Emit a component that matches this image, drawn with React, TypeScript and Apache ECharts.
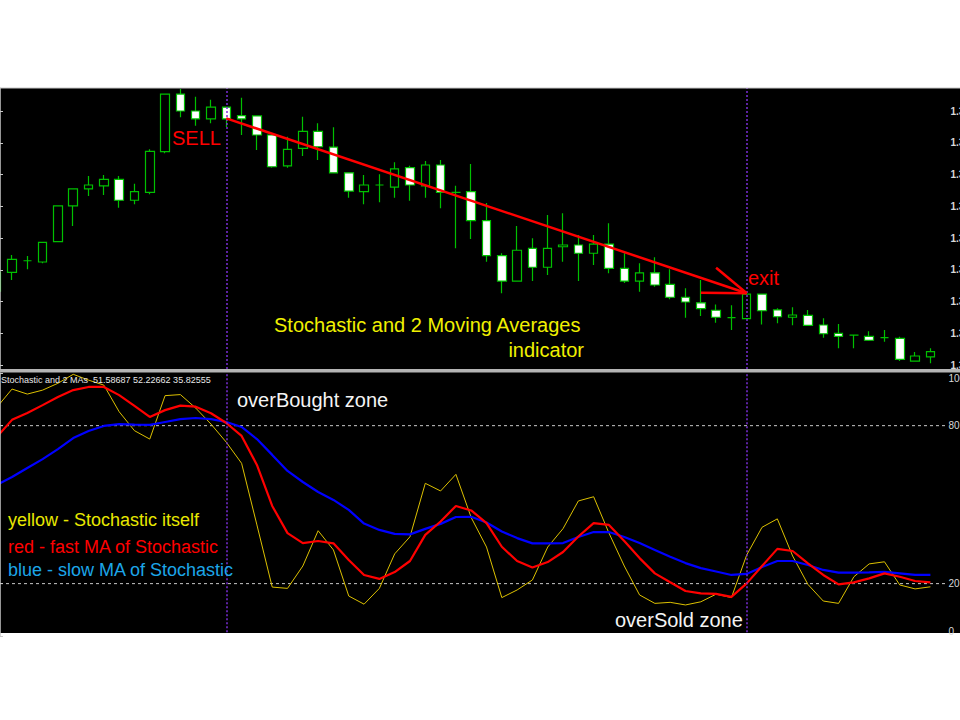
import React, { useEffect, useRef } from "react";
import * as echarts from "echarts";

// ---------- DATA ----------
const barNames: string[] = [
  "b01","b02","b03","b04","b05","b06","b07","b08","b09","b10",
  "b11","b12","b13","b14","b15","b16","b17","b18","b19","b20",
  "b21","b22","b23","b24","b25","b26","b27","b28","b29","b30",
  "b31","b32","b33","b34","b35","b36","b37","b38","b39","b40",
  "b41","b42","b43","b44","b45","b46","b47","b48","b49","b50",
  "b51","b52","b53","b54","b55","b56","b57","b58","b59","b60",
  "b61","b62",
];

const opens: number[] = [
  1.30466, 1.30584, 1.30657, 1.30649, 1.30777, 1.31002, 1.31109, 1.31128, 1.3117, 1.31038,
  1.31088, 1.31344, 1.31707, 1.316, 1.3155, 1.31624, 1.31571, 1.31569, 1.31449, 1.31254,
  1.31365, 1.31472, 1.31373, 1.31211, 1.31092, 1.31134, 1.31121, 1.31243, 1.31128, 1.3126,
  1.31088, 1.31092, 1.30909, 1.30689, 1.30529, 1.30735, 1.30616, 1.30745, 1.30756, 1.30704,
  1.30762, 1.30609, 1.30529, 1.30581, 1.30508, 1.30427, 1.30392, 1.30345, 1.30298, 1.30292,
  1.30447, 1.30347, 1.30301, 1.30313, 1.30252, 1.302, 1.30189, 1.30181, 1.30172, 1.30168,
  1.30025, 1.30052,
];
const closes: number[] = [
  1.30586, 1.30666, 1.30657, 1.30773, 1.31002, 1.31109, 1.31134, 1.3117, 1.31038, 1.31092,
  1.31346, 1.31707, 1.316, 1.3155, 1.31624, 1.3155, 1.3155, 1.31449, 1.31249, 1.31359,
  1.31472, 1.31375, 1.31211, 1.31096, 1.31134, 1.31134, 1.31235, 1.31134, 1.3126, 1.31088,
  1.31088, 1.30909, 1.30689, 1.30529, 1.30723, 1.30616, 1.30735, 1.30756, 1.30704, 1.30762,
  1.30609, 1.30529, 1.30581, 1.30504, 1.30427, 1.30397, 1.30355, 1.30301, 1.30298, 1.30447,
  1.30342, 1.30304, 1.30315, 1.3025, 1.30197, 1.30181, 1.30189, 1.30156, 1.30172, 1.30036,
  1.30057, 1.30084,
];
const lows: number[] = [
  1.30435, 1.30536, 1.30603, 1.30641, 1.30777, 1.30876, 1.31065, 1.31071, 1.30991, 1.31012,
  1.31075, 1.31334, 1.31561, 1.31508, 1.31523, 1.31499, 1.31449, 1.31355, 1.31243, 1.31243,
  1.31317, 1.31292, 1.31211, 1.31054, 1.31012, 1.31025, 1.31054, 1.31035, 1.31054, 1.30987,
  1.30735, 1.30794, 1.30651, 1.30452, 1.30525, 1.30529, 1.30567, 1.30651, 1.30529, 1.3063,
  1.30578, 1.30517, 1.30462, 1.30493, 1.30414, 1.30298, 1.30309, 1.30266, 1.30221, 1.30292,
  1.30256, 1.30263, 1.3025, 1.30246, 1.30172, 1.30105, 1.30105, 1.30151, 1.30147, 1.30025,
  1.30025, 1.30011,
];
const highs: number[] = [
  1.30611, 1.30693, 1.30687, 1.30773, 1.31002, 1.31109, 1.31191, 1.31197, 1.31191, 1.31142,
  1.31359, 1.31707, 1.31739, 1.3169, 1.31671, 1.31624, 1.31684, 1.31569, 1.31449, 1.31438,
  1.31564, 1.31523, 1.31498, 1.31211, 1.31197, 1.31201, 1.31277, 1.31256, 1.31285, 1.31292,
  1.3113, 1.31266, 1.31021, 1.30704, 1.30876, 1.30798, 1.30945, 1.30956, 1.30819, 1.30819,
  1.30893, 1.30704, 1.30641, 1.30679, 1.30603, 1.30483, 1.30536, 1.30382, 1.30376, 1.30447,
  1.30447, 1.30357, 1.30364, 1.30347, 1.30294, 1.30258, 1.30189, 1.30212, 1.30221, 1.30178,
  1.30082, 1.30105,
];

// Stochastic main line (yellow)
const stochMain: number[] = [
  86.9, 93.9, 92.0, 93.5, 96.1, 99.5, 97.3, 95.4, 85.3, 78.1,
  74.9, 91.4, 91.8, 86.7, 80.6, 73.7, 65.7, 42.3, 18.7, 18.2,
  26.7, 40.1, 32.8, 15.3, 12.2, 18.2, 31.3, 37.8, 58.1, 55.2,
  61.5, 45.1, 33.9, 14.7, 17.6, 21.4, 33.9, 40.9, 51.4, 53.0,
  39.2, 26.7, 15.7, 12.5, 12.9, 11.9, 13.1, 16.0, 14.7, 30.9,
  41.4, 44.6, 30.5, 19.7, 13.4, 12.5, 22.6, 27.5, 28.3, 19.5,
  18.0, 18.8,
];
// Fast MA of Stochastic (red)
const stochFast: number[] = [
  75.7, 82.2, 84.8, 87.8, 90.9, 93.5, 94.7, 94.7, 91.6, 87.5,
  83.3, 85.9, 87.6, 87.2, 84.7, 81.0, 76.1, 65.1, 49.5, 39.2,
  35.4, 36.2, 35.3, 29.0, 23.3, 21.8, 24.4, 28.6, 38.5, 43.6,
  49.5, 47.8, 43.0, 34.0, 28.6, 26.1, 28.2, 32.0, 37.9, 43.0,
  42.3, 36.2, 29.7, 23.9, 20.5, 17.2, 16.3, 16.1, 15.0, 20.1,
  26.7, 33.2, 32.4, 27.7, 23.3, 19.7, 20.5, 22.0, 23.9, 22.6,
  21.0, 20.5,
];
// Slow MA of Stochastic (blue)
const stochSlow: number[] = [
  57.5, 60.5, 63.9, 67.3, 71.1, 75.3, 78.0, 79.9, 80.6, 80.4,
  80.3, 81.4, 82.5, 82.9, 82.5, 81.4, 79.5, 74.9, 68.9, 62.8,
  58.6, 54.8, 51.8, 48.0, 42.8, 40.4, 38.9, 38.7, 40.8, 42.7,
  45.3, 45.4, 43.2, 39.8, 37.3, 35.3, 35.3, 35.4, 37.7, 39.6,
  39.6, 37.7, 35.4, 32.8, 30.2, 27.8, 25.9, 24.6, 23.3, 23.7,
  26.3, 28.6, 28.6, 27.1, 25.2, 24.2, 24.2, 24.3, 24.5, 23.9,
  23.3, 23.3,
];

const priceTicks: number[] = [1.3, 1.302, 1.304, 1.306, 1.308, 1.31, 1.312, 1.314, 1.316];
const priceMin = 1.29975;
const priceMax = 1.31745;
const stochTicks: number[] = [0, 20, 80, 100];
const stochLevels: number[] = [80, 20];
const signalBars: number[] = [15, 49]; // SELL bar, exit bar
const trendStart: [number, number] = [15, 1.31554];
const trendEnd: [number, number] = [49, 1.30452];
const arrowBarbStarts: [number, number][] = [[47, 1.30613], [46, 1.30455]];
const headerText = "Stochastic and 2 MAs  51.58687 52.22662 35.82555";

// ---------- STYLE ----------
const DX = 20; // chart container starts 20px left of the page so the first bar can be cut off
const FONT = "'Liberation Sans', Arial, sans-serif";
const GREEN = "#00c000";
const PURPLE = "#7b2fd8";
const AXIS_GRAY = "#c8c8c8";

const candleData = opens.map((o, i) => [o, closes[i], lows[i], highs[i]]);

const purpleLines = signalBars.map((b) => ({
  xAxis: b,
  lineStyle: { color: PURPLE, width: 1.5, type: [2, 2] },
}));

const redStyle = { color: "#ff0000", width: 2.5, type: "solid" };
const redPairs: any[] = [
  [
    { coord: trendStart, lineStyle: redStyle },
    { coord: trendEnd, lineStyle: redStyle },
  ],
  ...arrowBarbStarts.map((s) => [
    { coord: s, lineStyle: redStyle },
    { coord: trendEnd, lineStyle: redStyle },
  ]),
];

const txt = (
  text: string,
  x: number,
  y: number,
  fill: string,
  fontSize: number,
  align: string = "left"
) => ({
  type: "text",
  x: x + DX,
  y,
  z: 50,
  silent: true,
  style: { text, fill, fontSize, fontFamily: FONT, align, verticalAlign: "middle" },
});

const rect = (x: number, y: number, w: number, h: number, fill: string, z: number) => ({
  type: "rect",
  z,
  silent: true,
  shape: { x: x + DX, y, width: w, height: h },
  style: { fill },
});

const option: any = {
  animation: false,
  backgroundColor: "#ffffff",
  grid: [
    { left: DX - 10.95, top: 88, width: 949, height: 281, outerBoundsMode: "none" },
    { left: DX - 10.95, top: 373, width: 949, height: 263.3, outerBoundsMode: "none" },
    { left: DX, top: 88, width: 945.5, height: 281, outerBoundsMode: "none" },
    { left: DX, top: 373, width: 945.5, height: 263.3, outerBoundsMode: "none" },
  ],
  xAxis: [
    { type: "category", gridIndex: 0, data: barNames, boundaryGap: true, show: false },
    { type: "category", gridIndex: 1, data: barNames, boundaryGap: true, show: false },
    { type: "value", gridIndex: 2, min: 0, max: 1, show: false },
    { type: "value", gridIndex: 3, min: 0, max: 1, show: false },
  ],
  yAxis: [
    { type: "value", gridIndex: 0, min: priceMin, max: priceMax, show: false },
    { type: "value", gridIndex: 1, min: 0, max: 100, show: false },
    {
      type: "value",
      gridIndex: 2,
      position: "right",
      min: priceMin,
      max: priceMax,
      z: 70,
      axisLine: { show: true, lineStyle: { color: AXIS_GRAY, width: 1.5 } },
      axisTick: { show: true, length: 3, customValues: priceTicks, lineStyle: { color: AXIS_GRAY } },
      axisLabel: {
        customValues: priceTicks,
        formatter: (v: number) => v.toFixed(4),
        color: "#d8d8d8",
        fontSize: 10,
        fontWeight: "bold",
        fontFamily: FONT,
        margin: 5,
      },
      splitLine: { show: false },
    },
    {
      type: "value",
      gridIndex: 3,
      position: "right",
      min: 0,
      max: 100,
      z: 70,
      axisLine: { show: true, lineStyle: { color: AXIS_GRAY, width: 1.5 } },
      axisTick: { show: true, length: 3, customValues: stochTicks, lineStyle: { color: AXIS_GRAY } },
      axisLabel: {
        customValues: stochTicks,
        formatter: (v: number) => String(v),
        color: "#d8d8d8",
        fontSize: 10,
        fontFamily: FONT,
        margin: 3,
        verticalAlignMinLabel: "bottom",
        verticalAlignMaxLabel: "top",
      },
      splitLine: { show: false },
    },
  ],
  series: [
    {
      type: "candlestick",
      xAxisIndex: 0,
      yAxisIndex: 0,
      data: candleData,
      barWidth: 9,
      itemStyle: {
        color: "#000000",
        color0: "#ffffff",
        borderColor: GREEN,
        borderColor0: GREEN,
        borderColorDoji: GREEN,
        borderWidth: 1.2,
      },
      markLine: {
        silent: true,
        symbol: ["none", "none"],
        label: { show: false },
        data: [...purpleLines, ...redPairs],
      },
    },
    ...stochLevels.map((lv) => ({
      type: "line",
      xAxisIndex: 3,
      yAxisIndex: 3,
      data: [
        [0, lv],
        [1, lv],
      ],
      symbol: "none",
      silent: true,
      lineStyle: { color: "#c8c8c8", width: 1, type: [3, 3] },
    })),
    {
      type: "line",
      name: "Stochastic",
      xAxisIndex: 1,
      yAxisIndex: 1,
      data: stochMain,
      symbol: "none",
      lineStyle: { color: "#dcc000", width: 1 },
    },
    {
      type: "line",
      name: "slow MA",
      xAxisIndex: 1,
      yAxisIndex: 1,
      data: stochSlow,
      symbol: "none",
      lineStyle: { color: "#0000ff", width: 2.2 },
    },
    {
      type: "line",
      name: "fast MA",
      xAxisIndex: 1,
      yAxisIndex: 1,
      data: stochFast,
      symbol: "none",
      lineStyle: { color: "#ff0000", width: 2.2 },
      markLine: {
        silent: true,
        symbol: ["none", "none"],
        label: { show: false },
        data: purpleLines,
      },
    },
  ],
  graphic: [
    rect(0, 88, 960, 545, "#000000", -10),
    rect(0, 87.5, 960, 1, "#c8c8c8", 60),
    rect(0, 369, 960, 3.5, "#b4b4b4", 60),
    rect(0, 633, 960, 87, "#ffffff", 60),
    txt("SELL", 172, 138, "#ff0000", 20),
    txt("exit", 748, 278, "#ff0000", 20),
    txt("Stochastic and 2 Moving Averages", 274, 325, "#f0f000", 20),
    txt("indicator", 584, 350, "#f0f000", 20, "right"),
    txt("overBought zone", 237, 400, "#f4f4f4", 20),
    txt("overSold zone", 615, 620, "#f4f4f4", 20),
    txt("yellow - Stochastic itself", 8, 520, "#e8e800", 18),
    txt("red - fast MA of Stochastic", 8, 547, "#ff0000", 18),
    txt("blue - slow MA of Stochastic", 8, 570, "#1ca6e8", 18),
    txt(headerText, 1, 380, "#e8e8e8", 9),
  ],
};

export default function App() {
  const ref = useRef<HTMLDivElement>(null);
  useEffect(() => {
    if (!ref.current) return;
    const chart = echarts.init(ref.current, null, { renderer: "svg" });
    chart.setOption(option);
    return () => {
      chart.dispose();
    };
  }, []);
  return (
    <div
      ref={ref}
      style={{ position: "absolute", left: -DX, top: 0, width: 960 + DX, height: 720 }}
    />
  );
}
